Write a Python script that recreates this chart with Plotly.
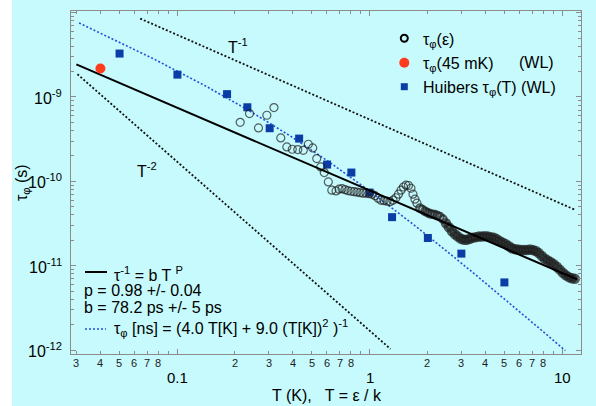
import numpy as np
import plotly.graph_objects as go

# ---- tau_phi(eps): dephasing time from the energy dependence (T = eps / k) ----
eps_T = [0.213, 0.238, 0.265, 0.293, 0.319, 0.346, 0.372, 0.397, 0.424, 0.453,
         0.481, 0.507, 0.532, 0.558, 0.582, 0.611, 0.637,
         0.670, 0.695, 0.720, 0.746, 0.773, 0.802, 0.831, 0.861, 0.893, 0.925,
         0.959, 0.994, 1.030, 1.068, 1.107, 1.147, 1.189, 1.232, 1.278, 1.324,
         1.372, 1.414, 1.457, 1.501, 1.547, 1.594, 1.642, 1.682, 1.722, 1.764,
         1.828, 1.884, 1.941, 2.000, 2.061, 2.123, 2.188, 2.254, 2.322, 2.406,
         2.495, 2.585, 2.680, 2.778, 2.879, 2.985, 3.094, 3.206, 3.323, 3.444,
         3.570, 3.700, 3.835, 3.975, 4.120, 4.271, 4.427, 4.588, 4.756, 4.929,
         5.109, 5.296, 5.489, 5.690, 5.897, 6.112, 6.336, 6.567, 6.807, 7.055,
         7.312, 7.579, 7.856, 8.143, 8.440, 8.748, 9.067, 9.398, 9.741, 10.10,
         10.46, 10.85, 11.24, 11.65]
eps_tau = [5.01e-10, 6.35e-10, 4.30e-10, 6.07e-10, 7.48e-10, 3.27e-10, 2.56e-10,
           2.40e-10, 2.38e-10, 2.33e-10, 2.75e-10, 2.49e-10, 1.86e-10, 1.48e-10,
           1.27e-10, 9.84e-11, 7.85e-11,
           7.69e-11, 8.06e-11, 8.17e-11, 7.95e-11, 7.74e-11, 7.63e-11, 7.53e-11,
           7.43e-11, 7.33e-11, 7.23e-11, 7.23e-11, 7.13e-11, 7.04e-11, 6.75e-11,
           6.31e-11, 5.97e-11, 5.89e-11, 5.81e-11, 5.73e-11, 5.97e-11, 6.39e-11,
           7.04e-11, 7.85e-11, 8.56e-11, 8.99e-11, 8.92e-11, 8.28e-11, 7.04e-11,
           6.14e-11, 5.50e-11,
           4.80e-11, 4.61e-11, 4.42e-11, 4.25e-11, 4.13e-11, 4.07e-11, 4.02e-11,
           3.91e-11, 3.81e-11, 3.56e-11, 3.19e-11, 2.86e-11, 2.56e-11, 2.36e-11,
           2.21e-11, 2.09e-11, 2.03e-11, 2.03e-11, 2.09e-11, 2.15e-11, 2.18e-11,
           2.21e-11, 2.21e-11, 2.24e-11, 2.21e-11, 2.18e-11, 2.15e-11, 2.06e-11,
           1.95e-11, 1.87e-11, 1.80e-11, 1.70e-11, 1.61e-11, 1.57e-11, 1.55e-11,
           1.53e-11, 1.53e-11, 1.53e-11, 1.55e-11, 1.53e-11, 1.49e-11, 1.41e-11,
           1.30e-11, 1.21e-11, 1.15e-11, 1.10e-11, 1.04e-11, 9.73e-12, 8.97e-12,
           8.26e-12, 7.71e-12, 7.31e-12, 7.11e-12, 7.01e-12]

# ---- tau_phi at 45 mK from weak localisation ----
wl45_T = [0.040]
wl45_tau = [2.17e-9]

# ---- Huibers et al. tau_phi(T), weak localisation ----
hub_T = [0.0503, 0.1005, 0.182, 0.232, 0.303, 0.431, 0.602, 0.805, 1.0,
         1.31, 2.01, 3.0, 5.02]
hub_tau = [3.27e-9, 1.84e-9, 1.08e-9, 7.55e-10, 4.26e-10, 3.21e-10, 1.58e-10,
           1.27e-10, 7.36e-11, 3.76e-11, 2.13e-11, 1.39e-11, 6.33e-12]

# ---- power-law fit tau^-1 = b T^p (b in ps) ----
fit_p = 0.98
fit_b_ps = 78.2
fit_T_span = [0.03, 12.0]

# ---- Huibers formula tau[ns] = (4.0 T + 9.0 T^2)^-1 ----
hub_lin = 4.0
hub_quad = 9.0
hub_T_span = [0.031, 10.4]

# ---- guide slopes T^-1 and T^-2 ----
g1_T = [0.0644, 11.8]
g1_tau = [8.49e-9, 4.55e-11]
g2_T = [0.0304, 1.285]
g2_tau = [1.86e-9, 1.03e-12]

# ---- tick labels ----
x_digit_vals = [0.03, 0.04, 0.05, 0.06, 0.07, 0.08,
                0.2, 0.3, 0.4, 0.5, 0.6, 0.7, 0.8,
                2, 3, 4, 5, 6, 7, 8]
x_digit_text = ["3", "4", "5", "6", "7", "8",
                "2", "3", "4", "5", "6", "7", "8",
                "2", "3", "4", "5", "6", "7", "8"]
x_decade_vals = [0.1, 1, 10]
x_decade_text = ["0.1", "1", "10"]
y_decade_vals = [1e-12, 1e-11, 1e-10, 1e-9]
y_decade_text = ["10<sup>-12</sup>", "10<sup>-11</sup>", "10<sup>-10</sup>", "10<sup>-9</sup>"]

FONT = "Liberation Sans, Arial, sans-serif"
BG = "#C6FAFC"
FRAME = "#8C8C8C"
BLUE_SQ = "#0B3DA6"
BLUE_LN = "#2250D8"
RED = "#FF3B1C"

W, H = 596, 406
ML, MR, MT, MB = 71, 15, 11, 52
PW, PH = W - ML - MR, H - MT - MB


def px_x(px):
    return (px - ML) / PW


def px_y(py):
    return (H - MB - py) / PH


fig = go.Figure()

# guide slopes
fig.add_trace(go.Scatter(x=g1_T, y=g1_tau, mode="lines",
                         line=dict(color="#111111", width=1.8, dash="2px,2px")))
fig.add_trace(go.Scatter(x=g2_T, y=g2_tau, mode="lines",
                         line=dict(color="#111111", width=1.8, dash="2px,2px")))

# Huibers formula curve
hT = np.logspace(np.log10(hub_T_span[0]), np.log10(hub_T_span[1]), 200)
h_tau = 1e-9 / (hub_lin * hT + hub_quad * hT ** 2)
fig.add_trace(go.Scatter(x=hT, y=h_tau, mode="lines",
                         line=dict(color=BLUE_LN, width=1.6, dash="2px,2px")))

# Huibers data
fig.add_trace(go.Scatter(x=hub_T, y=hub_tau, mode="markers",
                         marker=dict(symbol="square", size=8, color=BLUE_SQ,
                                     line=dict(width=0))))

# tau_phi(eps) open circles; the dense high-T tail is drawn with heavier rims
rim = [1.2 if t < 1.8 else (2.2 if t < 2.45 else 4.0) for t in eps_T]
dia = [8 if t < 1.8 else (7.5 if t < 2.45 else 6.5) for t in eps_T]
fig.add_trace(go.Scatter(x=eps_T, y=eps_tau, mode="markers",
                         marker=dict(symbol="circle-open", size=dia,
                                     color="#1c1c1c", line=dict(width=rim))))

# power-law fit
fT = np.array(fit_T_span)
f_tau = fit_b_ps * 1e-12 * fT ** (-fit_p)
fig.add_trace(go.Scatter(x=fT, y=f_tau, mode="lines",
                         line=dict(color="black", width=2)))

# 45 mK point
fig.add_trace(go.Scatter(x=wl45_T, y=wl45_tau, mode="markers",
                         marker=dict(symbol="circle", size=10, color=RED,
                                     line=dict(width=0))))

minor_x = [m * 10.0 ** e for e in range(-2, 2) for m in range(2, 10)]
minor_y = [m * 10.0 ** e for e in range(-13, -7) for m in range(2, 10)]

axis_common = dict(showline=True, linecolor=FRAME, linewidth=1, mirror="ticks",
                   ticks="inside", tickcolor=FRAME, showgrid=False,
                   zeroline=False, showticklabels=False)

fig.update_xaxes(type="log", range=[-1.5506, 1.0986], tickvals=x_decade_vals,
                 ticklen=5, minor=dict(tickvals=minor_x, ticks="inside",
                                       ticklen=3, tickcolor=FRAME),
                 **axis_common)
fig.update_yaxes(type="log", range=[-12.047, -7.981],
                 tickvals=y_decade_vals + [1e-8], ticklen=5,
                 minor=dict(tickvals=minor_y, ticks="inside", ticklen=3,
                            tickcolor=FRAME),
                 **axis_common)

ann = []
# x tick labels
for v, t in zip(x_digit_vals, x_digit_text):
    ann.append(dict(x=np.log10(v), y=px_y(363), xref="x", yref="paper",
                    text=t, showarrow=False, xanchor="center", yanchor="middle",
                    font=dict(size=11, color="#222222")))
for v, t in zip(x_decade_vals, x_decade_text):
    ann.append(dict(x=np.log10(v), y=px_y(377), xref="x", yref="paper",
                    text=t, showarrow=False, xanchor="center", yanchor="middle",
                    font=dict(size=15, color="black")))
# y tick labels
for v, t in zip(y_decade_vals, y_decade_text):
    ann.append(dict(x=px_x(64), y=np.log10(v), xref="paper", yref="y",
                    text=t, showarrow=False, xanchor="right", yanchor="middle",
                    font=dict(size=16, color="black")))
# axis titles
ann.append(dict(x=px_x(327), y=px_y(396), xref="paper", yref="paper",
                text="T (K),&nbsp;&nbsp; T = ε / k", showarrow=False,
                xanchor="center", yanchor="middle",
                font=dict(size=16, color="black")))
ann.append(dict(x=px_x(22), y=px_y(183), xref="paper", yref="paper",
                text="τ<sub>φ</sub> (s)", showarrow=False, textangle=-90,
                xanchor="center", yanchor="middle",
                font=dict(size=16, color="black")))
# slope labels
ann.append(dict(x=np.log10(0.207), y=np.log10(4.02e-9), xref="x", yref="y",
                text="T<sup>-1</sup>", showarrow=False,
                font=dict(size=16, color="black")))
ann.append(dict(x=np.log10(0.0695), y=np.log10(1.355e-10), xref="x", yref="y",
                text="T<sup>-2</sup>", showarrow=False,
                font=dict(size=16, color="black")))

# legend (top right)
leg_rows = [38.3, 62.7, 86.7]
leg_text = ["τ<sub>φ</sub>(ε)", "τ<sub>φ</sub>(45 mK)", "Huibers τ<sub>φ</sub>(T) (WL)"]
for ry, t in zip(leg_rows, leg_text):
    ann.append(dict(x=px_x(421), y=px_y(ry), xref="paper", yref="paper",
                    text=t, showarrow=False, xanchor="left", yanchor="middle",
                    yshift=-2, font=dict(size=16, color="black")))
ann.append(dict(x=px_x(517), y=px_y(leg_rows[1]), xref="paper", yref="paper",
                text="(WL)", showarrow=False, xanchor="left", yanchor="middle",
                font=dict(size=16, color="black")))

# legend (bottom left)
ann.append(dict(x=px_x(112), y=px_y(271), xref="paper", yref="paper",
                text="τ<sup>-1</sup> = b T <sup>P</sup>", showarrow=False,
                xanchor="left", yanchor="middle", yshift=-3,
                font=dict(size=16, color="black")))
ann.append(dict(x=px_x(82), y=px_y(290), xref="paper", yref="paper",
                text="p = 0.98 +/- 0.04", showarrow=False,
                xanchor="left", yanchor="middle",
                font=dict(size=16, color="black")))
ann.append(dict(x=px_x(82), y=px_y(307.5), xref="paper", yref="paper",
                text="b = 78.2 ps +/- 5 ps", showarrow=False,
                xanchor="left", yanchor="middle",
                font=dict(size=16, color="black")))
ann.append(dict(x=px_x(112), y=px_y(328), xref="paper", yref="paper",
                text="τ<sub>φ</sub> [ns] = (4.0 T[K] + 9.0 (T[K])<sup>2</sup> )<sup>-1</sup>",
                showarrow=False, xanchor="left", yanchor="middle",
                font=dict(size=16, color="black")))

shapes = [
    # white strip along the left edge
    dict(type="rect", xref="paper", yref="paper", x0=px_x(-5), x1=px_x(12),
         y0=px_y(H + 5), y1=px_y(-5), fillcolor="white", line=dict(width=0),
         layer="below"),
    # legend symbols
    dict(type="circle", xref="paper", yref="paper", xsizemode="pixel",
         ysizemode="pixel", xanchor=px_x(404.3), yanchor=px_y(leg_rows[0]),
         x0=-3.5, x1=3.5, y0=-3.5, y1=3.5, line=dict(color="black", width=2)),
    dict(type="circle", xref="paper", yref="paper", xsizemode="pixel",
         ysizemode="pixel", xanchor=px_x(404.3), yanchor=px_y(leg_rows[1]),
         x0=-5, x1=5, y0=-5, y1=5, fillcolor=RED, line=dict(width=0)),
    dict(type="rect", xref="paper", yref="paper", xsizemode="pixel",
         ysizemode="pixel", xanchor=px_x(404.3), yanchor=px_y(leg_rows[2]),
         x0=-3.5, x1=3.5, y0=-3.5, y1=3.5, fillcolor=BLUE_SQ, line=dict(width=0)),
    dict(type="line", xref="paper", yref="paper", x0=px_x(85), x1=px_x(107),
         y0=px_y(272), y1=px_y(272), line=dict(color="black", width=2)),
    dict(type="line", xref="paper", yref="paper", x0=px_x(85), x1=px_x(106),
         y0=px_y(329), y1=px_y(329),
         line=dict(color=BLUE_LN, width=1.6, dash="2px,2px")),
]

fig.update_layout(
    width=W, height=H,
    margin=dict(l=ML, r=MR, t=MT, b=MB),
    paper_bgcolor=BG, plot_bgcolor=BG,
    showlegend=False,
    font=dict(family=FONT, size=14, color="black"),
    annotations=ann, shapes=shapes,
)

fig.write_html("out.html")
